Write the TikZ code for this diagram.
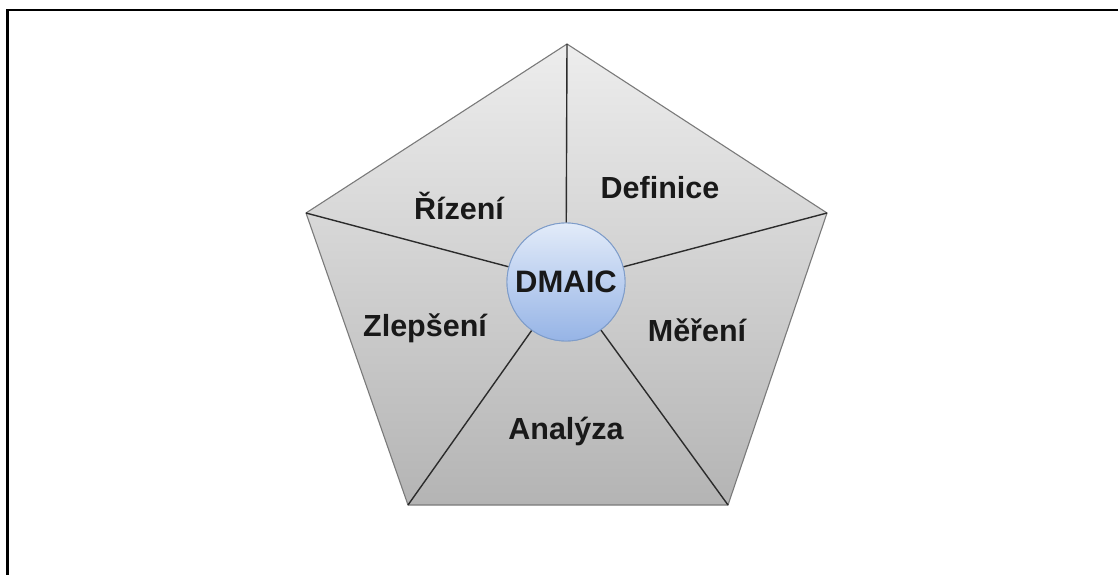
\documentclass[tikz,border=0pt]{standalone}
\usepackage{fontspec}
\setmainfont{Liberation Sans}
\definecolor{rimgray}{HTML}{7A7A7A}
\definecolor{facetop}{HTML}{EDEDED}
\definecolor{facebottom}{HTML}{B4B4B4}
\definecolor{hubtop}{HTML}{E2EBF9}
\definecolor{hubbottom}{HTML}{96B4E6}
\definecolor{hubrim}{HTML}{7E9CC9}
\definecolor{spokegray}{HTML}{2B2B2B}
\begin{document}
\begin{tikzpicture}[x=1pt,y=-1pt,
  penta/.style={draw=rimgray, line width=1.1pt, top color=facetop, bottom color=facebottom},
  spoke/.style={draw=spokegray, line width=1.4pt},
  hub/.style={circle, draw=hubrim, line width=0.9pt, top color=hubtop, bottom color=hubbottom,
              minimum size=118pt, inner sep=0pt, font=\bfseries\fontsize{31}{34}\selectfont, text=black!90},
  phase/.style={font=\bfseries\fontsize{30.5}{34}\selectfont, text=black!90, inner sep=0pt},
  frame/.style={draw=black, line width=2.2pt}]
\useasboundingbox (0,0) rectangle (1118,575);

% outer frame (only the top and left edges fall inside the page)
\draw[frame] (1120,10) -- (7.5,10) -- (7.5,577);

% corners of the pentagon
\coordinate (T)  at (567,44);
\coordinate (R)  at (827,213);
\coordinate (BR) at (728,505);
\coordinate (BL) at (408,505);
\coordinate (L)  at (306,213);

\draw[penta] (T) -- (R) -- (BR) -- (BL) -- (L) -- cycle;

\node[hub] (hub) at (566,282) {};

% spokes from every corner to the hub
\foreach \v in {T,R,BR,BL,L}
  \draw[spoke] (\v) -- (hub);

\node[hub] at (hub) {DMAIC};

% phase labels
\node[phase] (def) at (660,188) {Definice};
\node[phase] (mer) at (697,330) {Měření};
\node[phase] (ana) at (566,431) {Analýza};
\node[phase] (zle) at (425,328) {Zlepšení};
\node[phase] (riz) at (459,206) {Řízení};
\end{tikzpicture}
\end{document}
